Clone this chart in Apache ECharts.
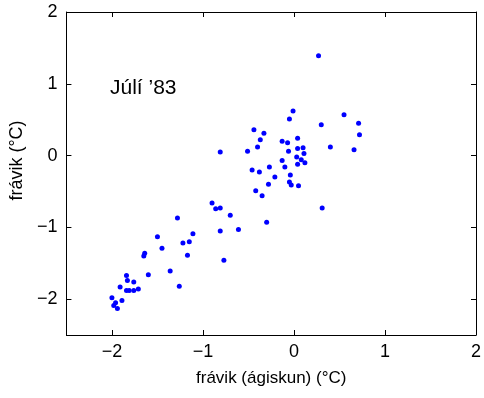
<!DOCTYPE html>
<html>
<head>
<meta charset="utf-8">
<script src="https://cdn.jsdelivr.net/npm/echarts@6/dist/echarts.min.js"></script>
<style>
  html, body { margin: 0; padding: 0; background: #fff; }
  #chart { width: 484px; height: 398px; }
</style>
</head>
<body>
<div id="chart"></div>
<script>
// estimated anomaly (x) vs observed anomaly (y), July 1983
const xVals = [
  -2.00, -1.98, -1.96, -1.94, -1.89, -1.91, -1.84, -1.81, -1.76, -1.71,
  -1.76, -1.83, -1.84, -1.60, -1.65, -1.64, -1.45, -1.50, -1.36, -1.26,
  -1.17, -1.22, -1.15, -1.11, -1.28, -0.90, -0.86, -0.81, -0.70, -0.81,
  -0.61, -0.77, -0.30, -0.42, -0.35, -0.28, -0.21, -0.46, -0.38, -0.27,
  -0.10, -0.13, -0.51, -0.81, -0.40, -0.44, -0.33, -0.37, -0.13, -0.07,
   0.04, -0.06,  0.04,  0.10,  0.11,  0.03,  0.08,  0.12,  0.04, -0.04,
  -0.05, -0.03,  0.05, -0.01, -0.05,  0.27,  0.55,  0.71,  0.72,  0.30,
   0.40,  0.66,  0.31
]
const yVals = [
  -1.98, -2.09, -2.05, -2.13, -2.02, -1.83, -1.88, -1.88, -1.88, -1.86,
  -1.76, -1.74, -1.67, -1.66, -1.40, -1.36, -1.29, -1.13, -1.61, -1.82,
  -1.39, -1.22, -1.20, -1.09, -0.87, -0.66, -0.74, -0.73, -0.83, -1.05,
  -1.03, -1.46, -0.93, -0.49, -0.56, -0.40, -0.30, -0.20, -0.23, -0.16,
  -0.16, -0.07,  0.06,  0.05,  0.12,  0.36,  0.31,  0.22,  0.20,  0.18,
   0.24,  0.06,  0.10,  0.11,  0.03, -0.02, -0.06, -0.10, -0.12, -0.27,
  -0.37, -0.41, -0.42,  0.62,  0.51,  1.39,  0.57,  0.45,  0.29,  0.43,
   0.12,  0.08, -0.73
]
const tickValues = [-2, -1, 0, 1, 2]
const annotation = 'Júlí \u201983'

const FONT = 'Liberation Sans, Arial, Helvetica, sans-serif'
const fmt = v => String(v).replace('-', '\u2212')

const points = xVals.map((x, i) => [x, yVals[i]])

function axis(extra) {
  return Object.assign({
    type: 'value',
    min: -2.5,
    max: 2,
    splitLine: { show: false },
    axisLine: { show: true, onZero: false, lineStyle: { color: '#000', width: 1 } },
    axisTick: { show: true, inside: true, length: 5, customValues: tickValues, lineStyle: { color: '#000' } },
    axisLabel: { show: false }
  }, extra)
}

const chart = echarts.init(document.getElementById('chart'))
chart.setOption({
  animation: false,
  grid: { left: 66, right: 8, top: 12, bottom: 63 },
  xAxis: [
    axis({
      position: 'bottom',
      name: 'frávik (ágiskun) (°C)',
      nameLocation: 'middle',
      nameGap: 35,
      nameTextStyle: { fontFamily: FONT, fontSize: 17, color: '#000' },
      axisLabel: { show: true, customValues: tickValues, formatter: fmt, margin: 8,
        fontFamily: FONT, fontSize: 18, color: '#000' }
    }),
    axis({ position: 'top' })
  ],
  yAxis: [
    axis({
      position: 'left',
      name: 'frávik (°C)',
      nameLocation: 'middle',
      nameGap: 40,
      nameTextStyle: { fontFamily: FONT, fontSize: 18, color: '#000', padding: [0, 0, 0, 26] },
      axisLabel: { show: true, customValues: tickValues, formatter: fmt, margin: 9,
        fontFamily: FONT, fontSize: 18, color: '#000' }
    }),
    axis({ position: 'right' })
  ],
  graphic: [{
    type: 'text',
    left: 110,
    top: 78,
    style: { text: annotation, font: '21px ' + FONT, fill: '#000' }
  }],
  series: [{
    type: 'scatter',
    xAxisIndex: 0,
    yAxisIndex: 0,
    symbol: 'circle',
    symbolSize: 5,
    itemStyle: { color: '#0000ff', opacity: 1 },
    data: points
  }]
})
</script>
</body>
</html>
